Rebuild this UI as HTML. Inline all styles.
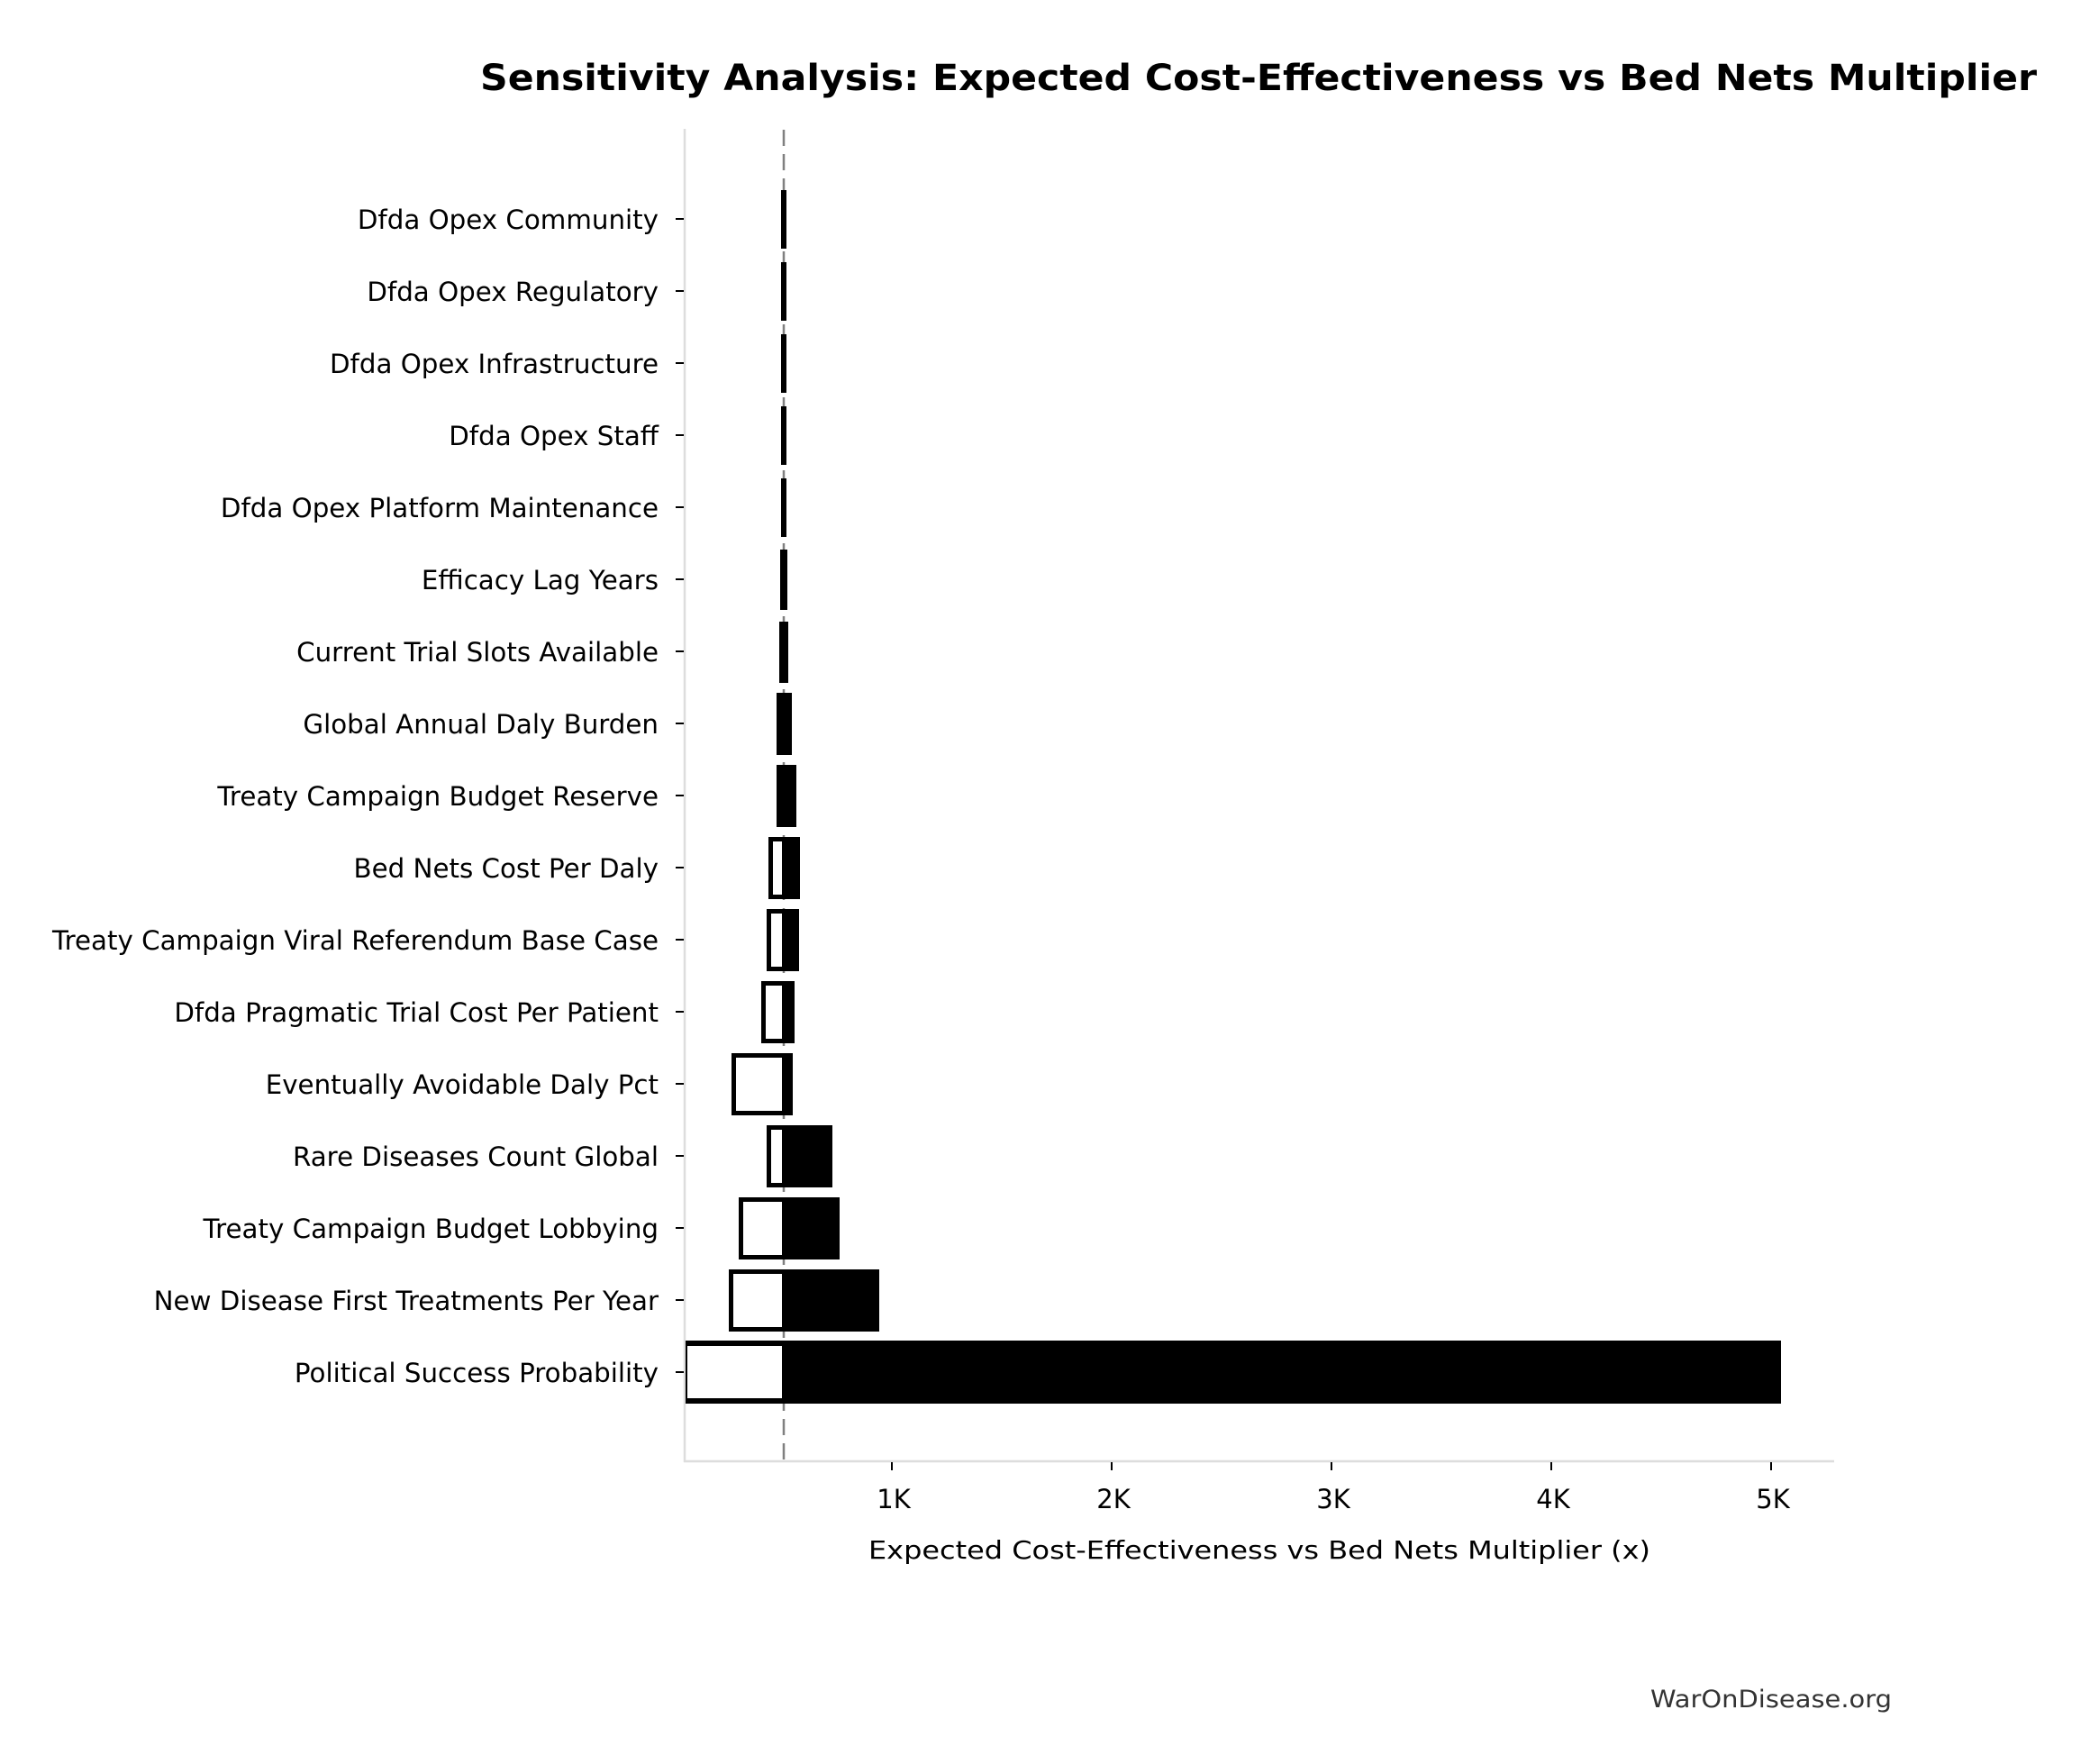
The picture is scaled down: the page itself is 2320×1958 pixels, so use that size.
<!DOCTYPE html>
<html><head><meta charset="utf-8"><style>
html,body{margin:0;padding:0;background:#fff;}
svg{display:block;}
text{font-family:"DejaVu Sans","Liberation Sans",sans-serif;}
</style></head><body>
<svg width="2320" height="1958" viewBox="0 0 2320 1958" xmlns="http://www.w3.org/2000/svg">
<rect width="2320" height="1958" fill="#fff"/>
<text x="533" y="100" font-size="40" font-weight="bold" textLength="1728" lengthAdjust="spacingAndGlyphs">Sensitivity Analysis: Expected Cost-Effectiveness vs Bed Nets Multiplier</text>
<line x1="760" y1="143" x2="760" y2="1623" stroke="#dddddd" stroke-width="2.5"/>
<line x1="759" y1="1622" x2="2036" y2="1622" stroke="#dddddd" stroke-width="2.5"/>
<line x1="870" y1="144" x2="870" y2="1621" stroke="#808080" stroke-width="2.5" stroke-dasharray="18,9"/>
<g id="bars">
<rect x="867" y="211" width="6" height="65" fill="#000"/>
<rect x="867" y="291" width="6" height="65" fill="#000"/>
<rect x="867" y="371" width="6" height="65" fill="#000"/>
<rect x="867" y="451" width="6" height="65" fill="#000"/>
<rect x="867" y="531" width="6" height="65" fill="#000"/>
<rect x="866" y="610" width="8" height="67" fill="#000"/>
<rect x="865" y="690" width="10" height="68" fill="#000"/>
<rect x="862" y="769" width="17" height="69" fill="#000"/>
<rect x="862" y="849" width="22" height="69" fill="#000"/>
<rect x="853" y="929" width="35" height="69" fill="#000"/>
<rect x="858" y="934" width="10" height="59" fill="#fff"/>
<rect x="851" y="1009" width="36" height="69" fill="#000"/>
<rect x="856" y="1014" width="12" height="59" fill="#fff"/>
<rect x="845" y="1089" width="37" height="69" fill="#000"/>
<rect x="850" y="1094" width="18" height="59" fill="#fff"/>
<rect x="812" y="1169" width="68" height="69" fill="#000"/>
<rect x="817" y="1174" width="51" height="59" fill="#fff"/>
<rect x="851" y="1249" width="73" height="69" fill="#000"/>
<rect x="856" y="1254" width="12" height="59" fill="#fff"/>
<rect x="820" y="1329" width="112" height="69" fill="#000"/>
<rect x="825" y="1334" width="43" height="59" fill="#fff"/>
<rect x="809" y="1409" width="167" height="69" fill="#000"/>
<rect x="814" y="1414" width="54" height="59" fill="#fff"/>
<rect x="761" y="1488" width="1216" height="70" fill="#000"/>
<rect x="763" y="1494" width="105" height="58" fill="#fff"/>
</g>
<g stroke="#000" stroke-width="2">
<line x1="750" y1="243" x2="759" y2="243"/><line x1="750" y1="323" x2="759" y2="323"/>
<line x1="750" y1="403" x2="759" y2="403"/><line x1="750" y1="483" x2="759" y2="483"/>
<line x1="750" y1="563" x2="759" y2="563"/><line x1="750" y1="643" x2="759" y2="643"/>
<line x1="750" y1="723" x2="759" y2="723"/><line x1="750" y1="803" x2="759" y2="803"/>
<line x1="750" y1="883" x2="759" y2="883"/><line x1="750" y1="963" x2="759" y2="963"/>
<line x1="750" y1="1043" x2="759" y2="1043"/><line x1="750" y1="1123" x2="759" y2="1123"/>
<line x1="750" y1="1203" x2="759" y2="1203"/><line x1="750" y1="1283" x2="759" y2="1283"/>
<line x1="750" y1="1363" x2="759" y2="1363"/><line x1="750" y1="1443" x2="759" y2="1443"/>
<line x1="750" y1="1523" x2="759" y2="1523"/>
<line x1="990" y1="1623" x2="990" y2="1632"/><line x1="1234" y1="1623" x2="1234" y2="1632"/>
<line x1="1478" y1="1623" x2="1478" y2="1632"/><line x1="1722" y1="1623" x2="1722" y2="1632"/>
<line x1="1966" y1="1623" x2="1966" y2="1632"/>
</g>
<g font-size="29.3" text-anchor="end" fill="#000">
<text x="731" y="254">Dfda Opex Community</text>
<text x="731" y="334">Dfda Opex Regulatory</text>
<text x="731" y="414">Dfda Opex Infrastructure</text>
<text x="731" y="494">Dfda Opex Staff</text>
<text x="731" y="574">Dfda Opex Platform Maintenance</text>
<text x="731" y="654">Efficacy Lag Years</text>
<text x="731" y="734">Current Trial Slots Available</text>
<text x="731" y="814">Global Annual Daly Burden</text>
<text x="731" y="894">Treaty Campaign Budget Reserve</text>
<text x="731" y="974">Bed Nets Cost Per Daly</text>
<text x="731" y="1054">Treaty Campaign Viral Referendum Base Case</text>
<text x="731" y="1134">Dfda Pragmatic Trial Cost Per Patient</text>
<text x="731" y="1214">Eventually Avoidable Daly Pct</text>
<text x="731" y="1294">Rare Diseases Count Global</text>
<text x="731" y="1374">Treaty Campaign Budget Lobbying</text>
<text x="731" y="1454">New Disease First Treatments Per Year</text>
<text x="731" y="1534">Political Success Probability</text>
</g>
<g font-size="29" text-anchor="middle" fill="#000">
<text x="992" y="1674">1K</text>
<text x="1236" y="1674">2K</text>
<text x="1480" y="1674">3K</text>
<text x="1724" y="1674">4K</text>
<text x="1968" y="1674">5K</text>
</g>
<text x="964" y="1730" font-size="28" textLength="868" lengthAdjust="spacingAndGlyphs">Expected Cost-Effectiveness vs Bed Nets Multiplier (x)</text>
<text x="1832" y="1895" font-size="27" fill="#333" textLength="268" lengthAdjust="spacingAndGlyphs">WarOnDisease.org</text>
</svg>
</body></html>
